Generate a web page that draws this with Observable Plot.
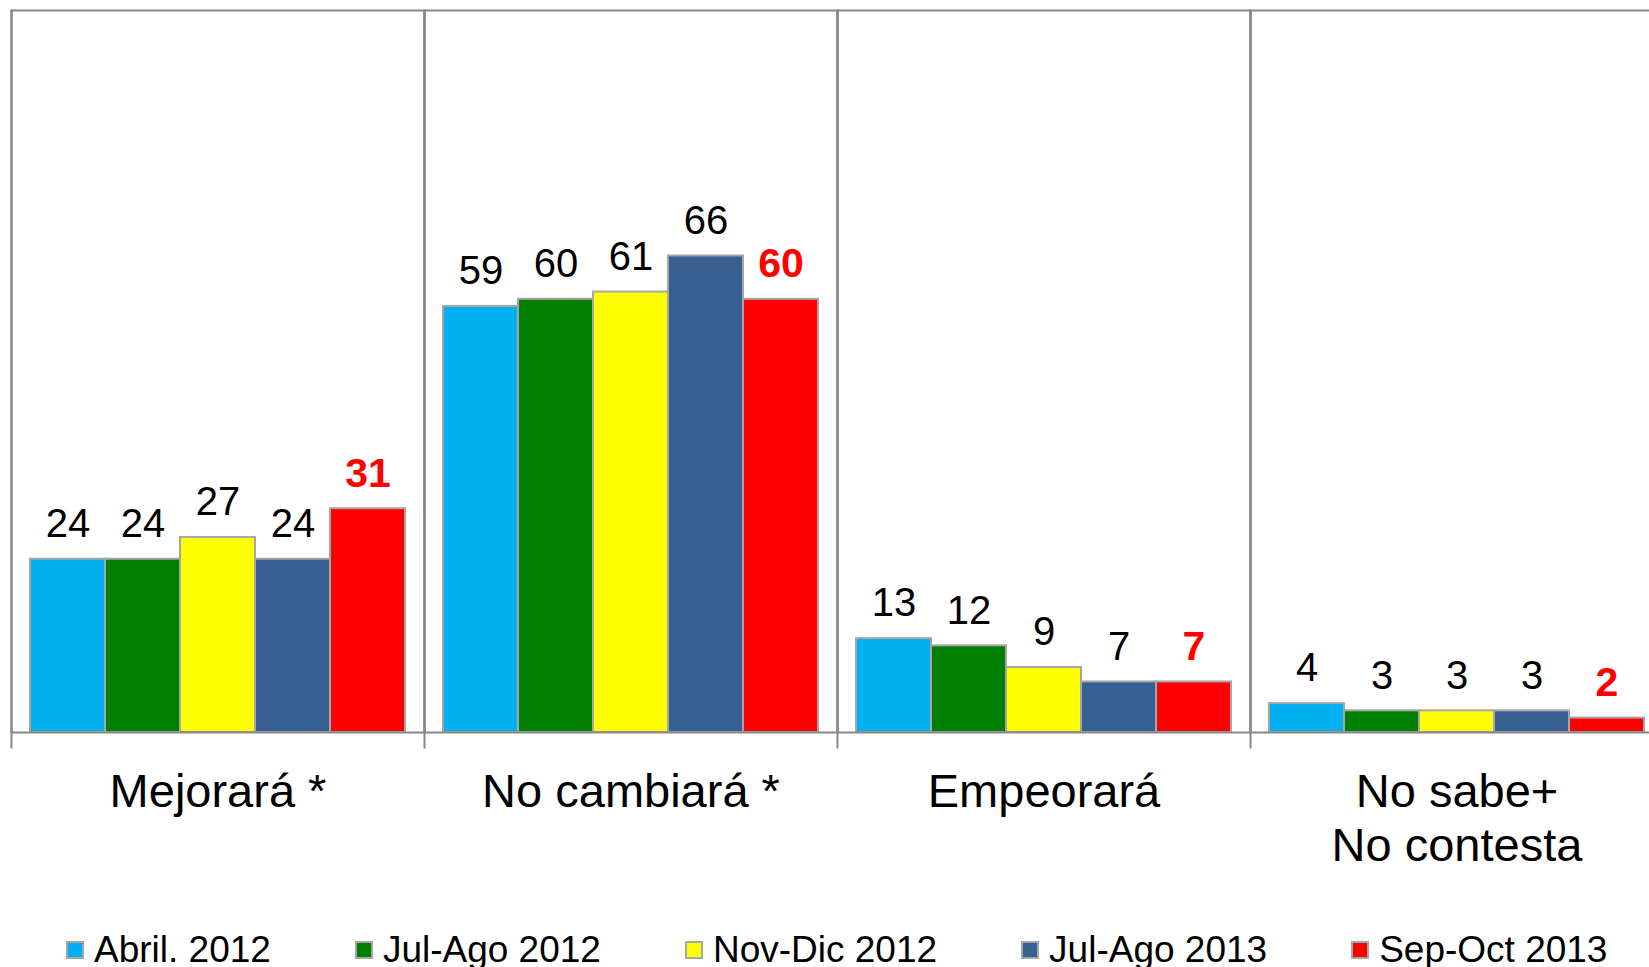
<!DOCTYPE html>
<html>
<head>
<meta charset="utf-8">
<script src="https://cdn.jsdelivr.net/npm/d3@7"></script>
<script src="https://cdn.jsdelivr.net/npm/@observablehq/plot@0.6"></script>
<style>
html, body { margin: 0; padding: 0; background: #fff; overflow: hidden; width: 1649px; height: 967px; }
#chart svg { max-width: none; display: block; }
.legend { display: flex; gap: 84px; padding-left: 66px; margin-top: 49px; font-family: "Liberation Sans", Arial, sans-serif; font-size: 37px; color: #000; white-space: nowrap; }
.legend .item { display: flex; align-items: center; }
.legend .sw { width: 14px; height: 14px; border: 2px solid #a6a6a6; margin-right: 10px; }
</style>
</head>
<body>
<div id="chart"></div>
<div class="legend" id="legend"></div>
<script>
const categories = ["Mejorará *", "No cambiará *", "Empeorará", "No sabe+\nNo contesta"];
const series = ["Abril. 2012", "Jul-Ago 2012", "Nov-Dic 2012", "Jul-Ago 2013", "Sep-Oct 2013"];
const colors = ["#00B0F0", "#008000", "#FFFF00", "#376092", "#FF0000"];
const abril2012 = [24, 59, 13, 4];
const julAgo2012 = [24, 60, 12, 3];
const novDic2012 = [27, 61, 9, 3];
const julAgo2013 = [24, 66, 7, 3];
const sepOct2013 = [31, 60, 7, 2];

const valuesBySeries = [abril2012, julAgo2012, novDic2012, julAgo2013, sepOct2013];
const data = [];
categories.forEach((c, ci) => {
  series.forEach((s, si) => {
    data.push({category: c, series: s, value: valuesBySeries[si][ci]});
  });
});
const highlight = series[series.length - 1];

const chart = Plot.plot({
  width: 1663,
  height: 880,
  marginLeft: 11,
  marginRight: 0,
  marginTop: 10,
  marginBottom: 148,
  style: {fontFamily: "'Liberation Sans', Arial, sans-serif", background: "#fff"},
  fx: {domain: categories, padding: 0, axis: null},
  x: {domain: series, paddingInner: 0, paddingOuter: 0.253, axis: null},
  y: {domain: [0, 100], axis: null},
  color: {domain: series, range: colors},
  marks: [
    Plot.barY(data, {fx: "category", x: "series", y: "value", fill: "series", stroke: "#a6a6a6", strokeWidth: 2}),
    Plot.frame({stroke: "#878787", strokeWidth: 2}),
    Plot.frame({anchor: "left", insetBottom: -15, stroke: "#878787", strokeWidth: 2}),
    Plot.text(data.filter(d => d.series !== highlight), {fx: "category", x: "series", y: "value", text: d => String(d.value), lineAnchor: "middle", dy: -35, fontSize: 40, fill: "#000"}),
    Plot.text(data.filter(d => d.series === highlight), {fx: "category", x: "series", y: "value", text: d => String(d.value), lineAnchor: "middle", dy: -35, fontSize: 41, fontWeight: "bold", fill: "#FF0000"}),
    Plot.text(categories, {fx: d => d, text: d => d, frameAnchor: "bottom", lineAnchor: "top", dy: 36, fontSize: 47, lineHeight: 1.15, fill: "#000"})
  ]
});
document.getElementById("chart").appendChild(chart);

const legend = document.getElementById("legend");
series.forEach((s, i) => {
  const item = document.createElement("div");
  item.className = "item";
  const sw = document.createElement("span");
  sw.className = "sw";
  sw.style.background = colors[i];
  const label = document.createElement("span");
  label.textContent = s;
  item.appendChild(sw);
  item.appendChild(label);
  legend.appendChild(item);
});
</script>
</body>
</html>
